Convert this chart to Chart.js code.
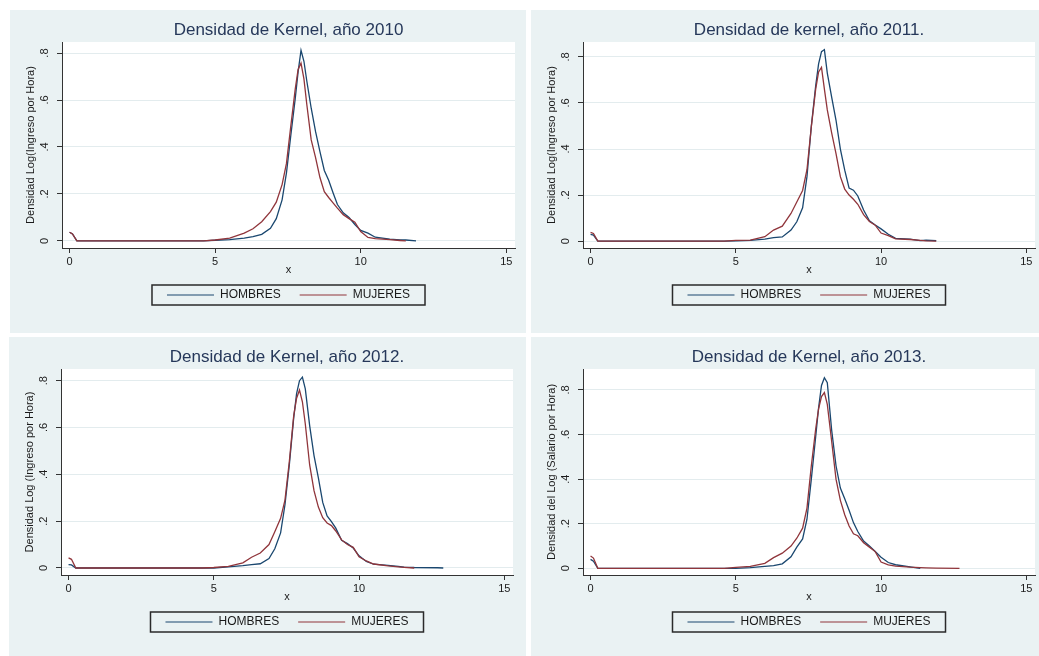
<!DOCTYPE html>
<html>
<head>
<meta charset="utf-8">
<script src="https://cdn.jsdelivr.net/npm/chart.js@4.4.0/dist/chart.umd.min.js"></script>
<style>
body { margin: 0; background: #fff; width: 1039px; height: 656px; overflow: hidden; position: relative; }
.panel { position: absolute; background: #eaf2f3; }
.panel canvas { position: absolute; left: 0; top: 0; }
</style>
</head>
<body>
<div class="panel" style="left:10px;top:10px;width:516px;height:323px"><canvas id="k2010" width="516" height="323"></canvas></div>
<div class="panel" style="left:531px;top:10px;width:508px;height:323px"><canvas id="k2011" width="508" height="323"></canvas></div>
<div class="panel" style="left:9px;top:337px;width:517px;height:319px"><canvas id="k2012" width="517" height="319"></canvas></div>
<div class="panel" style="left:531px;top:337px;width:508px;height:319px"><canvas id="k2013" width="508" height="319"></canvas></div>
<script>
//-------------------------------------------------- Data
const seriesNames = ["HOMBRES", "MUJERES"];
const titles = ["Densidad de Kernel, año 2010", "Densidad de kernel, año 2011.", "Densidad de Kernel, año 2012.", "Densidad de Kernel, año 2013."];
const yTitles = ["Densidad Log(Ingreso por Hora)", "Densidad Log(Ingreso por Hora)", "Densidad Log (Ingreso por Hora)", "Densidad del Log (Salario por Hora)"];
const xTitle = "x";
const xTicks = [0, 5, 10, 15];
const yTicks = [0, 0.2, 0.4, 0.6, 0.8];
const yTickLabels = ["0", ".2", ".4", ".6", ".8"];

// evaluation points shared by every curve (null = curve already ended)
const xGrid = [0, 0.1, 0.25, 4.6, 5, 5.5, 6, 6.3, 6.6, 6.9, 7.1, 7.3, 7.45, 7.6, 7.75, 7.85, 7.95, 8.05, 8.15, 8.3, 8.45, 8.6, 8.75, 8.9, 9.05, 9.2, 9.4, 9.6, 9.8, 10, 10.25, 10.5, 11, 11.35, 11.55, 11.9, 12.7, 12.9];

const hombres2010 = [0.037, 0.03, 0, 0, 0.003, 0.006, 0.012, 0.018, 0.028, 0.054, 0.095, 0.175, 0.29, 0.45, 0.605, 0.72, 0.812, 0.765, 0.68, 0.565, 0.465, 0.38, 0.3, 0.258, 0.205, 0.155, 0.12, 0.1, 0.07, 0.045, 0.033, 0.016, 0.008, 0.005, 0.004, 0, null, null];
const mujeres2010 = [0.037, 0.03, 0, 0, 0.004, 0.012, 0.033, 0.052, 0.082, 0.125, 0.165, 0.24, 0.33, 0.49, 0.645, 0.73, 0.757, 0.69, 0.58, 0.43, 0.355, 0.27, 0.21, 0.185, 0.162, 0.14, 0.112, 0.095, 0.08, 0.04, 0.015, 0.01, 0.006, 0.002, 0, null, null, null];
const hombres2011 = [0.029, 0.026, 0, 0, 0.001, 0.003, 0.009, 0.015, 0.018, 0.048, 0.084, 0.145, 0.28, 0.5, 0.675, 0.77, 0.823, 0.832, 0.73, 0.625, 0.525, 0.4, 0.308, 0.23, 0.221, 0.196, 0.135, 0.088, 0.07, 0.053, 0.03, 0.012, 0.009, 0.002, 0.004, 0.002, null, null];
const mujeres2011 = [0.038, 0.033, 0, 0, 0.003, 0.004, 0.019, 0.048, 0.065, 0.12, 0.17, 0.22, 0.31, 0.496, 0.66, 0.735, 0.755, 0.66, 0.57, 0.47, 0.38, 0.28, 0.226, 0.2, 0.182, 0.16, 0.115, 0.085, 0.069, 0.035, 0.024, 0.01, 0.007, 0.003, 0.001, 0, null, null];
const hombres2012 = [0.014, 0.013, 0, 0, 0, 0.005, 0.01, 0.014, 0.018, 0.04, 0.082, 0.15, 0.27, 0.44, 0.64, 0.745, 0.8, 0.815, 0.765, 0.608, 0.48, 0.385, 0.28, 0.222, 0.198, 0.17, 0.118, 0.104, 0.085, 0.052, 0.028, 0.016, 0.011, 0.007, 0.004, 0.002, 0.001, 0];
const mujeres2012 = [0.043, 0.037, 0, 0, 0.002, 0.007, 0.022, 0.046, 0.064, 0.1, 0.155, 0.212, 0.29, 0.455, 0.65, 0.725, 0.76, 0.71, 0.615, 0.44, 0.33, 0.26, 0.215, 0.192, 0.181, 0.158, 0.12, 0.1, 0.088, 0.048, 0.03, 0.017, 0.009, 0.005, 0.003, 0, null, null];
const hombres2013 = [0.04, 0.032, 0, 0, 0, 0.003, 0.009, 0.012, 0.02, 0.052, 0.095, 0.132, 0.22, 0.4, 0.59, 0.72, 0.82, 0.855, 0.833, 0.62, 0.46, 0.36, 0.312, 0.26, 0.205, 0.165, 0.122, 0.1, 0.075, 0.05, 0.026, 0.016, 0.006, 0, null, null, null, null];
const mujeres2013 = [0.055, 0.046, 0, 0, 0.004, 0.009, 0.022, 0.048, 0.068, 0.1, 0.135, 0.18, 0.27, 0.46, 0.625, 0.715, 0.77, 0.788, 0.735, 0.57, 0.4, 0.305, 0.24, 0.19, 0.155, 0.146, 0.115, 0.095, 0.075, 0.028, 0.015, 0.01, 0.005, 0.003, 0.002, 0.001, 0, null];
//^^^^^^^^^^^^^^^^^^^^^^^^^^^^^^^^^^^^^^^^^^^^^^^^^^ Data



//-------------------------------------------------- Chart setup
Chart.defaults.font.family = "'Liberation Sans', Arial, sans-serif";
Chart.defaults.color = "#1a1a1a";

const toPoints = ys => xGrid.map((x, i) => ({ x: x, y: ys[i] })).filter(p => p.y !== null);

// white plot region + box round the legend, like Stata's s2color scheme
const stataFrame = {
	id: "stataFrame",
	beforeDraw(chart) {
		const a = chart.chartArea, ctx = chart.ctx;
		ctx.save();
		ctx.fillStyle = "#ffffff";
		ctx.fillRect(a.left, a.top, a.right - a.left, a.bottom - a.top);
		ctx.restore();
	},
	afterDraw(chart) {
		const boxes = chart.legend.legendHitBoxes;
		if (!boxes || !boxes.length) return;
		const first = boxes[0], last = boxes[boxes.length - 1];
		const ctx = chart.ctx;
		ctx.save();
		ctx.strokeStyle = "#2a2a2a";
		ctx.lineWidth = 1.5;
		ctx.strokeRect(first.left - 15, first.top - 4, last.left + last.width - first.left + 30, first.height + 8);
		ctx.restore();
	}
};

function drawPanel(p) {
	new Chart(document.getElementById(p.id).getContext("2d"), {
		type: "line",
		data: {
			datasets: [
				{ label: seriesNames[0], data: toPoints(p.hombres), borderColor: "#1a476f", backgroundColor: "#1a476f", order: 1 },
				{ label: seriesNames[1], data: toPoints(p.mujeres), borderColor: "#90353b", backgroundColor: "#90353b", order: 0 }
			]
		},
		options: {
			responsive: false,
			animation: false,
			devicePixelRatio: 1,
			layout: { padding: { left: 0, top: 0, right: p.padRight, bottom: p.padBottom } },
			elements: { point: { radius: 0 }, line: { borderWidth: 1.3, tension: 0 } },
			scales: {
				x: {
					type: "linear", min: -0.26, max: 15.3,
					afterBuildTicks: s => { s.ticks = xTicks.map(v => ({ value: v })); },
					afterFit: s => { s.height = 22; },
					grid: { drawOnChartArea: false, tickLength: 5, tickColor: "#333" },
					border: { color: "#333", width: 1 },
					ticks: { font: { size: 11 }, padding: 2, maxRotation: 0, autoSkip: false },
					title: { display: true, text: xTitle, font: { size: 11 }, padding: { top: 0, bottom: -6.6 } }
				},
				y: {
					min: -0.03, max: p.yMax,
					afterBuildTicks: s => { s.ticks = yTicks.map(v => ({ value: v })); },
					afterFit: s => { s.width = 52; },
					grid: { color: "#e3ecee", tickLength: 5, tickColor: "#333" },
					border: { color: "#333", width: 1 },
					ticks: {
						font: { size: 11 }, padding: 7, minRotation: 90, maxRotation: 90, crossAlign: "center", autoSkip: false,
						callback: v => yTickLabels[yTicks.indexOf(v)]
					},
					title: { display: true, text: p.yTitle, font: { size: 11 }, padding: { top: 14.4, bottom: 0 } }
				}
			},
			plugins: {
				title: { display: true, text: p.title, fullSize: false, color: "#26385a", font: { size: 17, weight: "normal" }, padding: { top: 10.2, bottom: 1.4 } },
				legend: {
					position: "bottom", fullSize: false,
					labels: {
						usePointStyle: true, pointStyle: "line", pointStyleWidth: 47, padding: 19,
						font: { size: 12 }, color: "#1a1a1a",
						sort: (a, b) => a.datasetIndex - b.datasetIndex
					}
				},
				tooltip: { enabled: false }
			}
		},
		plugins: [stataFrame]
	});
}
//^^^^^^^^^^^^^^^^^^^^^^^^^^^^^^^^^^^^^^^^^^^^^^^^^^ Chart setup



//-------------------------------------------------- Panels
drawPanel({ id: "k2010", title: titles[0], yTitle: yTitles[0], hombres: hombres2010, mujeres: mujeres2010, yMax: 0.847, padRight: 11, padBottom: 22 });
drawPanel({ id: "k2011", title: titles[1], yTitle: yTitles[1], hombres: hombres2011, mujeres: mujeres2011, yMax: 0.865, padRight: 4, padBottom: 22 });
drawPanel({ id: "k2012", title: titles[2], yTitle: yTitles[2], hombres: hombres2012, mujeres: mujeres2012, yMax: 0.85, padRight: 13, padBottom: 18 });
drawPanel({ id: "k2013", title: titles[3], yTitle: yTitles[3], hombres: hombres2013, mujeres: mujeres2013, yMax: 0.894, padRight: 4, padBottom: 18 });
//^^^^^^^^^^^^^^^^^^^^^^^^^^^^^^^^^^^^^^^^^^^^^^^^^^ Panels
</script>
</body>
</html>
